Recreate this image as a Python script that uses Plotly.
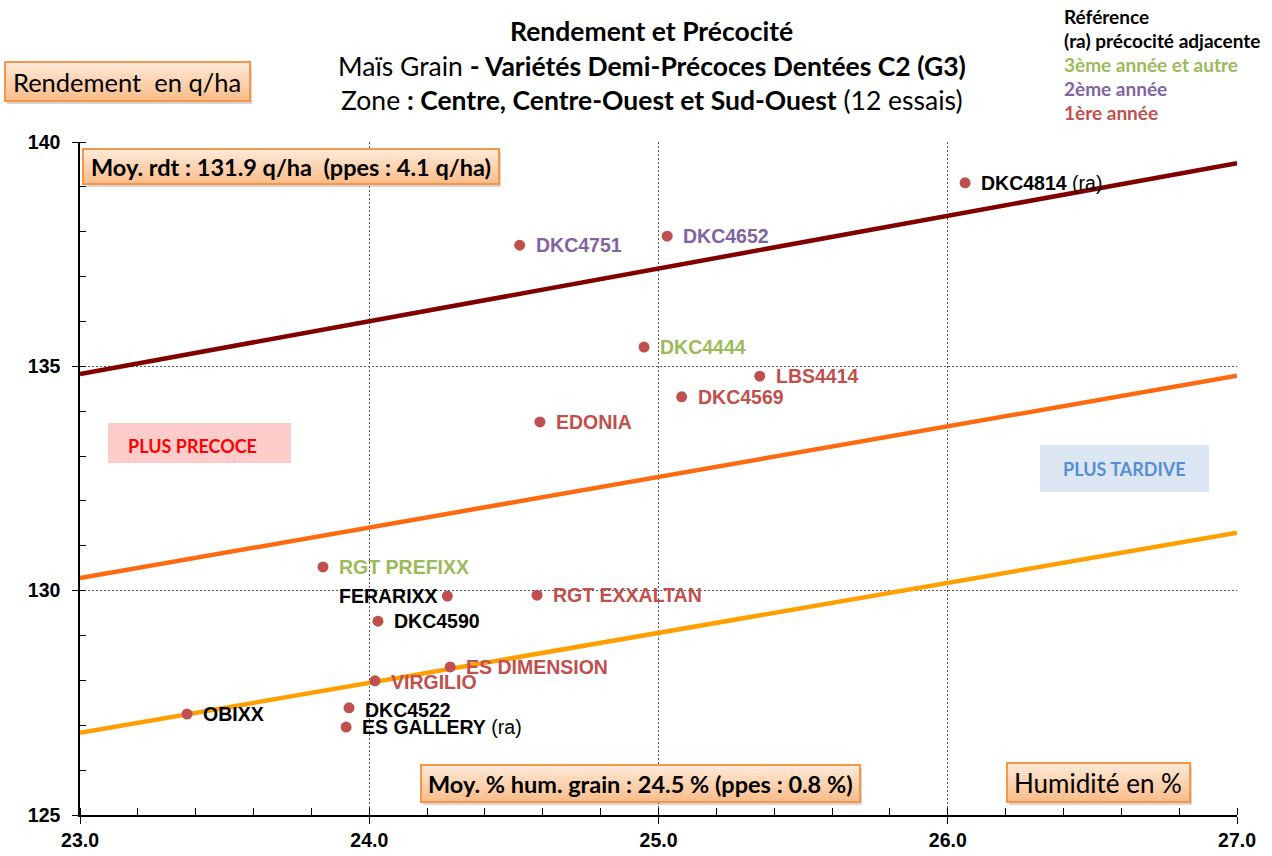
import plotly.graph_objects as go

# ---- data ----
varieties = ["DKC4814", "DKC4751", "DKC4652", "DKC4444", "LBS4414", "DKC4569", "EDONIA",
             "RGT PREFIXX", "FERARIXX", "RGT EXXALTAN", "DKC4590", "ES DIMENSION",
             "VIRGILIO", "OBIXX", "DKC4522", "ES GALLERY"]
humidity = [26.06, 24.52, 25.03, 24.95, 25.35, 25.08, 24.59,
            23.84, 24.27, 24.58, 24.03, 24.28,
            24.02, 23.37, 23.93, 23.92]
yield_qha = [139.09, 137.70, 137.90, 135.43, 134.78, 134.32, 133.76,
             130.53, 129.88, 129.90, 129.32, 128.30,
             127.99, 127.25, 127.39, 126.96]
category = ["ref", "2", "2", "3", "1", "1", "1",
            "3", "ref", "1", "ref", "1",
            "1", "ref", "ref", "ref"]
suffix = [" (ra)", "", "", "", "", "", "", "", "", "", "", "", "", "", "", " (ra)"]

line_x = [23.0, 27.0]
line_upper = [134.83, 139.53]
line_mid = [130.28, 134.79]
line_lower = [126.83, 131.29]

x_ticks = [23.0, 24.0, 25.0, 26.0, 27.0]
y_ticks = [125, 130, 135, 140]

# ---- styles ----
cat_colors = {"ref": "#000000", "3": "#9BBB59", "2": "#8064A2", "1": "#C0504D"}
label_yshift = {"VIRGILIO": -1, "DKC4522": -2}
L, R, T, B = 80, 1237, 142, 815
W, H = R - L, B - T


def px(xp):
    return (xp - L) / W


def py(yp):
    return (B - yp) / H


fig = go.Figure()

for ys, col in [(line_upper, "#800000"), (line_mid, "#FF6A10"), (line_lower, "#FFA000")]:
    fig.add_trace(go.Scatter(x=line_x, y=ys, mode="lines",
                             line=dict(color=col, width=4.5), hoverinfo="skip",
                             showlegend=False))

fig.add_trace(go.Scatter(x=humidity, y=yield_qha, mode="markers",
                         marker=dict(color="#C0504D", size=11),
                         text=varieties, showlegend=False))

annotations = []
for name, xv, yv, cat, suf in zip(varieties, humidity, yield_qha, category, suffix):
    left = name == "FERARIXX"
    txt = "<b>" + name + "</b>" + suf
    annotations.append(dict(x=xv, y=yv, xref="x", yref="y", text=txt, showarrow=False,
                            xanchor="right" if left else "left", yanchor="middle",
                            xshift=-8 if left else 15, yshift=label_yshift.get(name, 0),
                            borderpad=0,
                            font=dict(family="Liberation Sans, Arial", size=19.5,
                                      color=cat_colors[cat])))

tfont = "Lato, Carlito, Calibri, sans-serif"


def ptext(xp, yp, text, size, color="#000", xanchor="center"):
    annotations.append(dict(x=px(xp), y=py(yp), xref="paper", yref="paper", text=text,
                            showarrow=False, xanchor=xanchor, yanchor="middle",
                            font=dict(family=tfont, size=size, color=color)))


# title lines
ptext(651, 31, "<b>Rendement et Précocité</b>", 26.5)
ptext(652, 66, "Maïs Grain <b>- Variétés Demi-Précoces Dentées C2 (G3)</b>", 26.5)
ptext(651, 100, "Zone <b>: Centre, Centre-Ouest et Sud-Ouest</b> (12 essais)", 26.5)

# legend text top-right
legend_lines = [("Référence", "#000000"), ("(ra) précocité adjacente", "#000000"),
                ("3ème année et autre", "#9BBB59"), ("2ème année", "#8064A2"),
                ("1ère année", "#C0504D")]
for i, (t, c) in enumerate(legend_lines):
    ptext(1062, 16 + 24.2 * i, "<b>" + t + "</b>", 19, c, xanchor="left")

shapes = []


def box(x0, y0, x1, y1, fill, border=None, bw=0):
    shapes.append(dict(type="rect", xref="paper", yref="paper",
                       x0=px(x0), x1=px(x1), y0=py(y1), y1=py(y0),
                       fillcolor=fill, line=dict(color=border or fill, width=bw),
                       layer="above"))


def grad_box(x0, y0, x1, y1):
    box(x0 + 2, y0 + 3, x1 + 2, y1 + 3, "rgba(0,0,0,0.16)")
    top = (254, 232, 214)
    bot = (250, 190, 140)
    n = 10
    h = (y1 - y0) / n
    for k in range(n):
        f = k / (n - 1)
        c = tuple(int(round(top[j] + (bot[j] - top[j]) * f)) for j in range(3))
        box(x0, y0 + k * h, x1, y0 + (k + 1) * h + 0.6, "rgb(%d,%d,%d)" % c)
    shapes.append(dict(type="rect", xref="paper", yref="paper",
                       x0=px(x0), x1=px(x1), y0=py(y1), y1=py(y0),
                       fillcolor="rgba(0,0,0,0)", line=dict(color="#F79646", width=2),
                       layer="above"))


for (x0, y0, x1, y1) in [(5, 62, 250, 101), (83, 149, 499, 184), (421, 765, 860, 802),
                         (1007, 763, 1190, 802)]:
    grad_box(x0, y0, x1, y1)

box(108, 423, 291, 463, "#FFCCCC")
box(1040, 445, 1209, 492, "#DCE6F2")

ptext(127, 81.5, "Rendement  en q/ha", 25.5)
ptext(1098, 782.5, "Humidité en %", 26)
ptext(291, 167, "<b>Moy. rdt : 131.9 q/ha  (ppes : 4.1 q/ha)</b>", 23.5)
ptext(640, 784, "<b>Moy. % hum. grain : 24.5 % (ppes : 0.8 %)</b>", 23.5)
ptext(192, 446, "<b>PLUS PRECOCE</b>", 18, "#FF0000")
ptext(1124, 469, "<b>PLUS TARDIVE</b>", 18, "#558ED5")

tickfont = dict(family="Liberation Sans, Arial", size=19.5, color="#000")
fig.update_layout(
    width=1272, height=856,
    margin=dict(l=L, r=1272 - R, t=T, b=856 - B, autoexpand=False),
    paper_bgcolor="white", plot_bgcolor="white",
    showlegend=False,
    annotations=annotations, shapes=shapes,
    xaxis=dict(range=[23, 27], tickvals=x_ticks, ticktext=[f"<b>{v:.1f}</b>" for v in x_ticks],
               showline=True, linecolor="#000", linewidth=1.5,
               ticks="outside", ticklen=7, tickcolor="#000", tickwidth=1,
               showgrid=True, gridcolor="#555", gridwidth=1, griddash="2px,2px",
               minor=dict(dtick=0.2, ticks="inside", ticklen=7, tickcolor="#000",
                          showgrid=False),
               tickfont=tickfont, zeroline=False, fixedrange=True),
    yaxis=dict(range=[125, 140], tickvals=y_ticks, ticktext=[f"<b>{v}</b>" for v in y_ticks],
               showline=True, linecolor="#000", linewidth=1.5,
               ticks="outside", ticklen=6, tickcolor="#000", tickwidth=1,
               showgrid=True, gridcolor="#555", gridwidth=1, griddash="2px,2px",
               minor=dict(dtick=1, ticks="inside", ticklen=6, tickcolor="#000",
                          showgrid=False),
               tickfont=tickfont, zeroline=False, ticklabelstandoff=8, fixedrange=True),
)

fig.write_html("out.html", config={"displayModeBar": False},
               post_script="document.body.style.margin='0';")
